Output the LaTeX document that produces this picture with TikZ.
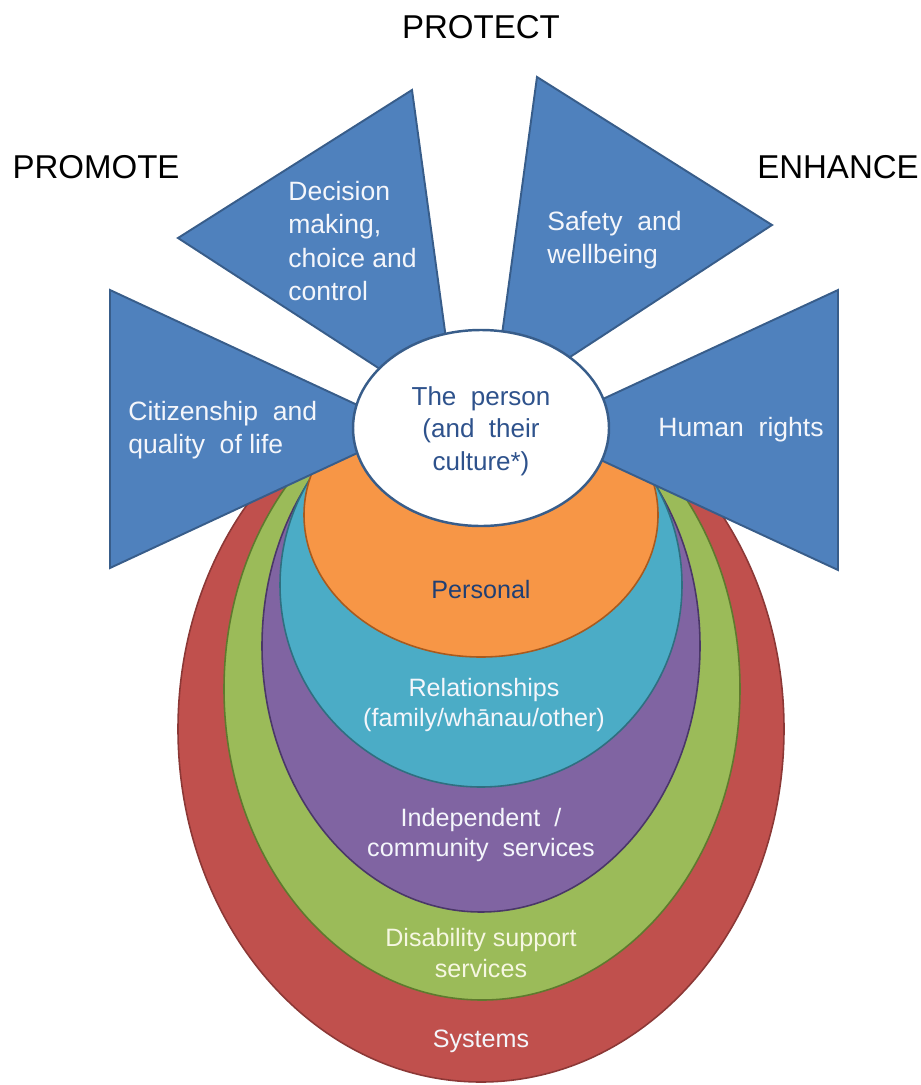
\documentclass[tikz,border=0pt]{standalone}
\usepackage{fontspec}
\setmainfont{Liberation Sans}
\definecolor{bluefill}{HTML}{4F81BD}
\definecolor{blueline}{HTML}{385D8A}
\definecolor{redfill}{HTML}{C0504D}
\definecolor{redline}{HTML}{8C3836}
\definecolor{greenfill}{HTML}{9BBB59}
\definecolor{greenline}{HTML}{5E7A2E}
\definecolor{purplefill}{HTML}{8064A2}
\definecolor{purpleline}{HTML}{4A3768}
\definecolor{tealfill}{HTML}{4BACC6}
\definecolor{tealline}{HTML}{2F6F80}
\definecolor{orangefill}{HTML}{F79646}
\definecolor{orangeline}{HTML}{A85A1E}
\definecolor{persontext}{HTML}{2E528C}
\definecolor{darktext}{HTML}{1F3F74}
\definecolor{paletext}{HTML}{F4F6FB}
\definecolor{creamtext}{HTML}{F6F7E2}
\begin{document}
\begin{tikzpicture}[x=0.02cm,y=-0.02cm,
  ring/.style={line width=0.9pt},
  petal/.style={fill=bluefill,draw=blueline,line width=1.1pt,line join=miter},
  heading/.style={font=\fontsize{18.8}{22}\selectfont,text=black,inner sep=0pt},
  petaltext/.style={font=\fontsize{15.1}{19}\selectfont,text=paletext,inner sep=0pt,align=left},
  ringtext/.style={font=\fontsize{14.3}{17.4}\selectfont,inner sep=0pt,align=center}]
\useasboundingbox (0,0) rectangle (920,1085);

% nested circles of influence, outermost first
\draw[ring,fill=redfill,draw=redline] (481,729) ellipse [x radius=303,y radius=353];
\draw[ring,fill=greenfill,draw=greenline] (482,689) ellipse [x radius=258,y radius=311];
\draw[ring,fill=purplefill,draw=purpleline] (481,646) ellipse [x radius=219,y radius=266];
\draw[ring,fill=tealfill,draw=tealline] (481,585) ellipse [x radius=201,y radius=202];
\draw[ring,fill=orangefill,draw=orangeline] (481,515) ellipse [x radius=177,y radius=142];

% four wedges pointing at the person
\draw[petal] (110,290) -- (409,429) -- (110,568) -- cycle;
\draw[petal] (178,238) -- (412,90) -- (457,419) -- cycle;
\draw[petal] (537,77) -- (772,225) -- (492,408) -- cycle;
\draw[petal] (838,290) -- (838,570) -- (536,430) -- cycle;

% the person at the centre
\draw[fill=white,draw=blueline,line width=1.4pt] (481,428) ellipse [x radius=128,y radius=98];

% headings
\node[heading] (promote) at (96,167) {PROMOTE};
\node[heading] (protect) at (481,27) {PROTECT};
\node[heading] (enhance) at (838,167) {ENHANCE};

% wedge labels
\node[petaltext,anchor=west] (decision) at (288,241) {Decision\\making,\\choice and\\control};
\node[petaltext,anchor=west] (safety) at (547,240) {Safety\ \ and\\wellbeing};
\node[petaltext,anchor=west] (citizen) at (128,430) {Citizenship\ \ and\\quality\ \ of life};
\node[petaltext] (rights) at (741,430) {Human\ \ rights};

% centre and ring labels
\node[ringtext,text=persontext,font=\fontsize{14.8}{18.6}\selectfont] (person) at (481,431) {The\ \ person\\(and\ \ their\\culture*)};
\node[ringtext,text=darktext] (personal) at (481,590) {Personal};
\node[ringtext,text=paletext] (relations) at (484,705) {Relationships\\(family/whānau/other)};
\node[ringtext,text=paletext] (indep) at (481,835) {Independent\ \ /\\community\ \ services};
\node[ringtext,text=creamtext] (disab) at (481,953) {Disability support\\services};
\node[ringtext,text=paletext] (systems) at (481,1041) {Systems};
\end{tikzpicture}
\end{document}
